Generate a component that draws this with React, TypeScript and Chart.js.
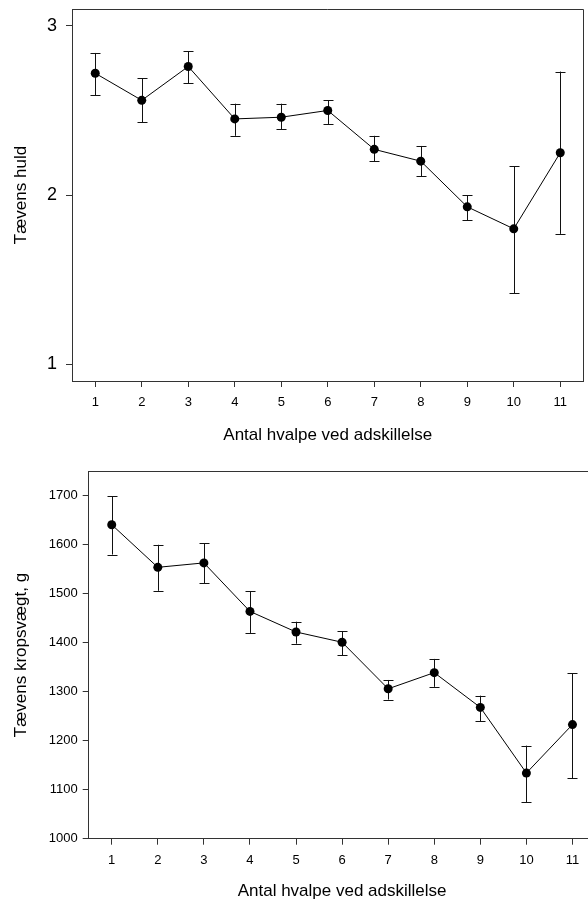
import React, { useEffect, useRef } from "react";
import { Chart, registerables } from "chart.js";

Chart.register(...registerables);

// ---- data ----
const litterSizes = [1, 2, 3, 4, 5, 6, 7, 8, 9, 10, 11];
const xLabels = litterSizes.map(String);

const conditionMean = [2.72, 2.56, 2.76, 2.45, 2.46, 2.5, 2.27, 2.2, 1.93, 1.8, 2.25];
const conditionUpper = [2.84, 2.69, 2.85, 2.54, 2.54, 2.56, 2.35, 2.29, 2.0, 2.17, 2.73];
const conditionLower = [2.59, 2.43, 2.66, 2.35, 2.39, 2.42, 2.2, 2.11, 1.85, 1.42, 1.77];
const conditionTicks = [1, 2, 3];

const weightMean = [1641, 1554, 1563, 1464, 1422, 1401, 1306, 1339, 1268, 1134, 1233];
const weightUpper = [1699, 1600, 1603, 1505, 1443, 1424, 1324, 1367, 1292, 1190, 1338];
const weightLower = [1580, 1506, 1522, 1420, 1398, 1374, 1284, 1310, 1240, 1074, 1123];
const weightTicks = [1000, 1100, 1200, 1300, 1400, 1500, 1600, 1700];

const xTitle = "Antal hvalpe ved adskillelse";
const conditionTitle = "Tævens huld";
const weightTitle = "Tævens kropsvægt, g";

const FONT = "'Liberation Sans', Arial, Helvetica, sans-serif";
const AXIS_COLOR = "#333333";

type PanelProps = {
  top: number;
  width: number;
  height: number;
  mean: number[];
  upper: number[];
  lower: number[];
  yTicks: number[];
  yMin: number;
  yMax: number;
  yTitle: string;
  yTickSize: number;
  yTickPadding: number;
  padTop: number;
  yWidth: number;
  xHeight: number;
  xTitlePadBottom: number;
};

function Panel(p: PanelProps) {
  const ref = useRef<HTMLCanvasElement | null>(null);

  useEffect(() => {
    if (!ref.current) return;

    const errorBars = {
      id: "errorBars",
      beforeDatasetsDraw(chart: any) {
        const ctx = chart.ctx;
        const xs = chart.scales.x;
        const ys = chart.scales.y;
        ctx.save();
        ctx.strokeStyle = "#111111";
        ctx.lineWidth = 1;
        p.mean.forEach((_, i) => {
          const x = Math.round(xs.getPixelForValue(i)) + 0.5;
          const yt = ys.getPixelForValue(p.upper[i]);
          const yb = ys.getPixelForValue(p.lower[i]);
          ctx.beginPath();
          ctx.moveTo(x, yt);
          ctx.lineTo(x, yb);
          ctx.moveTo(x - 5, Math.round(yt) + 0.5);
          ctx.lineTo(x + 5, Math.round(yt) + 0.5);
          ctx.moveTo(x - 5, Math.round(yb) + 0.5);
          ctx.lineTo(x + 5, Math.round(yb) + 0.5);
          ctx.stroke();
        });
        ctx.restore();
      },
    };

    const frame = {
      id: "frame",
      afterDraw(chart: any) {
        const { ctx, chartArea } = chart;
        ctx.save();
        ctx.strokeStyle = AXIS_COLOR;
        ctx.lineWidth = 1;
        const t = Math.round(chartArea.top) + 0.5;
        const r = Math.round(chartArea.right) - 0.5;
        ctx.beginPath();
        ctx.moveTo(chartArea.left, t);
        ctx.lineTo(r, t);
        ctx.lineTo(r, chartArea.bottom);
        ctx.stroke();
        ctx.restore();
      },
    };

    const chart = new Chart(ref.current, {
      type: "line",
      data: {
        labels: xLabels,
        datasets: [
          {
            data: p.mean,
            borderColor: "#000000",
            borderWidth: 1,
            pointBackgroundColor: "#000000",
            pointBorderColor: "#000000",
            pointBorderWidth: 0,
            pointRadius: 4.5,
            tension: 0,
            fill: false,
          },
        ],
      },
      options: {
        responsive: false,
        animation: false,
        devicePixelRatio: 1,
        layout: { padding: { top: p.padTop, right: 0.5, left: 0, bottom: 0 } },
        plugins: {
          legend: { display: false },
          tooltip: { enabled: false },
        },
        scales: {
          x: {
            type: "category",
            offset: true,
            grid: {
              display: true,
              offset: false,
              drawOnChartArea: false,
              drawTicks: true,
              tickLength: 6,
              color: AXIS_COLOR,
              lineWidth: 1,
            },
            border: { display: true, color: AXIS_COLOR, width: 1 },
            ticks: {
              color: "#000000",
              font: { family: FONT, size: 13 },
              padding: 8,
              maxRotation: 0,
              autoSkip: false,
            },
            title: {
              display: true,
              text: xTitle,
              color: "#000000",
              font: { family: FONT, size: 17 },
              padding: { top: 0, bottom: p.xTitlePadBottom },
            },
            afterFit(scale: any) {
              scale.height = p.xHeight;
              scale.paddingLeft = 0;
              scale.paddingRight = 0;
              scale.paddingTop = 0;
              scale.paddingBottom = 0;
            },
          },
          y: {
            type: "linear",
            min: p.yMin,
            max: p.yMax,
            afterBuildTicks(scale: any) {
              scale.ticks = p.yTicks.map((v) => ({ value: v }));
            },
            grid: {
              display: true,
              drawOnChartArea: false,
              drawTicks: true,
              tickLength: 6,
              color: AXIS_COLOR,
              lineWidth: 1,
            },
            border: { display: true, color: AXIS_COLOR, width: 1 },
            ticks: {
              color: "#000000",
              font: { family: FONT, size: p.yTickSize },
              padding: p.yTickPadding,
              callback: (v: any) => String(v),
            },
            title: {
              display: true,
              text: p.yTitle,
              color: "#000000",
              font: { family: FONT, size: 17 },
              padding: { top: 10.7, bottom: 0 },
            },
            afterFit(scale: any) {
              scale.width = p.yWidth;
              scale.paddingLeft = 0;
              scale.paddingRight = 0;
              scale.paddingTop = 0;
              scale.paddingBottom = 0;
            },
          },
        },
      },
      plugins: [errorBars, frame],
    } as any);

    return () => chart.destroy();
  }, []);

  return (
    <canvas
      ref={ref}
      width={p.width}
      height={p.height}
      style={{
        position: "absolute",
        left: 0,
        top: p.top,
        width: p.width,
        height: p.height,
        display: "block",
      }}
    />
  );
}

export default function App() {
  return (
    <div
      style={{
        position: "absolute",
        left: 0,
        top: 0,
        width: 588,
        height: 899,
        overflow: "hidden",
        background: "#ffffff",
      }}
    >
      <Panel
        top={0}
        width={588}
        height={455}
        mean={conditionMean}
        upper={conditionUpper}
        lower={conditionLower}
        yTicks={conditionTicks}
        yMin={0.9}
        yMax={3.1}
        yTitle={conditionTitle}
        yTickSize={18}
        yTickPadding={9}
        padTop={9}
        yWidth={72}
        xHeight={74}
        xTitlePadBottom={9.8}
      />
      <Panel
        top={455}
        width={600}
        height={460}
        mean={weightMean}
        upper={weightUpper}
        lower={weightLower}
        yTicks={weightTicks}
        yMin={1000}
        yMax={1750}
        yTitle={weightTitle}
        yTickSize={13}
        yTickPadding={5}
        padTop={16.3}
        yWidth={88.7}
        xHeight={76.3}
        xTitlePadBottom={13.8}
      />
    </div>
  );
}
